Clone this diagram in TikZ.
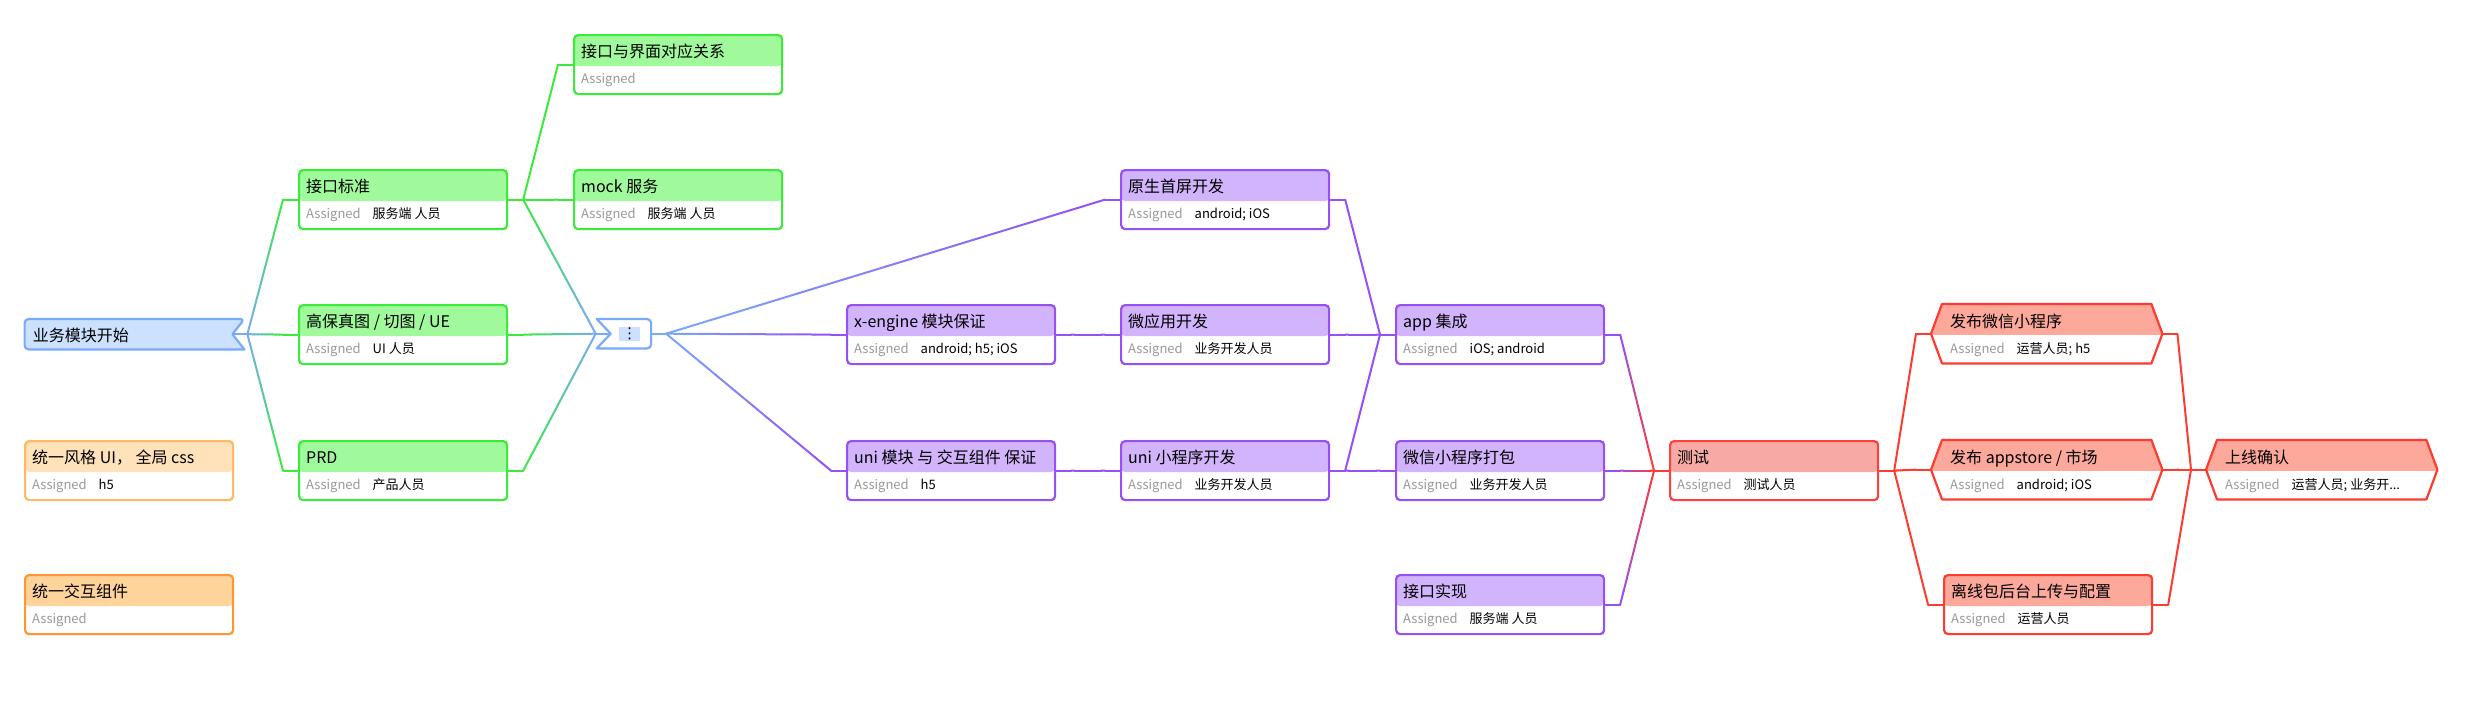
\documentclass[tikz,border=0pt]{standalone}
\usepackage{fontspec}
\setmainfont{Noto Sans CJK SC}
\newfontfamily\symfont{DejaVu Sans}
\usetikzlibrary{calc}
\usetikzlibrary{backgrounds}

\definecolor{bluline}{HTML}{78AAFA}
\definecolor{bluband}{HTML}{CCE0FF}
\definecolor{grnline}{HTML}{3AEB3A}
\definecolor{grnband}{HTML}{A0FA9B}
\definecolor{purline}{HTML}{9650F5}
\definecolor{purband}{HTML}{D2B4FC}
\definecolor{redline}{HTML}{FF403C}
\definecolor{redband}{HTML}{F7AAA5}
\definecolor{salline}{HTML}{FF3B30}
\definecolor{salband}{HTML}{FCA89B}
\definecolor{orgline}{HTML}{FFB964}
\definecolor{orgband}{HTML}{FFE2B9}
\definecolor{ambline}{HTML}{FF9632}
\definecolor{ambband}{HTML}{FFD49B}
\definecolor{assgray}{HTML}{999999}

\newcommand{\taskbox}[5]{%
	\node[box=#3] (#1) at #2 {};
	\node[ttl] (#1-t) at ([xshift=8pt,yshift=-23pt]#1.north west) {#4};
	\node[asg] (#1-a) at ([xshift=8pt,yshift=-49.5pt]#1.north west) {Assigned};
	\node[val] (#1-v) at ([xshift=74.5pt,yshift=-49.5pt]#1.north west) {#5};
}

\newcommand{\hexbox}[4]{%
	\node[hexnode] (#1) at #2 {};
	\draw[hexshape] ([xshift=11pt]#1.north west) -- ([xshift=-11pt]#1.north east) -- (#1.east)
		-- ([xshift=-11pt]#1.south east) -- ([xshift=11pt]#1.south west) -- (#1.west) -- cycle;
	\node[ttl] (#1-t) at ([xshift=19pt,yshift=-23pt]#1.north west) {#3};
	\node[asg] (#1-a) at ([xshift=19pt,yshift=-49.5pt]#1.north west) {Assigned};
	\node[val] (#1-v) at ([xshift=85.5pt,yshift=-49.5pt]#1.north west) {#4};
}

\newcommand{\flow}[4]{%
	\path #1 ++(15,0) coordinate (l-a) #2 ++(-15,0) coordinate (l-b);
	\draw[conn, #3] #1 -- (l-a);
	\draw[conn, #4] (l-b) -- #2;
	\foreach \i in {0,...,9}{
		\pgfmathtruncatemacro\pc{10*\i+5}
		\draw[conn, #4!\pc!#3] ($(l-a)!{\i/10}!(l-b)$) -- ($(l-a)!{(\i+1)/10}!(l-b)$);
	}
}

\begin{document}
\begin{tikzpicture}[x=1pt, y=-1pt,
	band/.style={path picture={\fill[#1] (path picture bounding box.north west) rectangle ([yshift=-31pt]path picture bounding box.north east);}},
	box/.style={rectangle, rounded corners=4pt, draw=#1line, fill=white, line width=2.2pt, minimum width=208pt, minimum height=59pt, inner sep=0pt, anchor=north west, band=#1band},
	hexnode/.style={rectangle, minimum width=231pt, minimum height=59pt, inner sep=0pt, anchor=north west},
	hexshape/.style={draw=salline, fill=white, line width=2.2pt, line join=round, band=salband},
	conn/.style={line width=2pt, line cap=round},
	ttl/.style={anchor=base west, inner sep=0pt, font=\fontsize{16}{19}\selectfont},
	asg/.style={anchor=base west, inner sep=0pt, text=assgray, font=\fontsize{13}{15}\selectfont},
	val/.style={anchor=base west, inner sep=0pt, font=\fontsize{13}{15}\selectfont}]
	
	\useasboundingbox (0,0) rectangle (2490,710);
	
	\node[rectangle, minimum width=219.4pt, minimum height=30pt, inner sep=0pt, anchor=north west] (start) at (24.6,319) {};
	\filldraw[bluline, fill=bluband, line width=2.2pt, line join=round] (start.south east) [rounded corners=4pt] -- (start.south west) -- (start.north west) -- (start.north east) [sharp corners] -- ([xshift=-12pt]start.east) coordinate (start-n) -- cycle;
	\node[ttl] (start-t) at ([xshift=8pt,yshift=-22.5pt]start.north west) {业务模块开始};
	
	\taskbox{ui}{(24,440)}{org}{统一风格 UI， 全局 css}{h5}
	\taskbox{comp}{(24,574)}{amb}{统一交互组件}{}
	
	\taskbox{api}{(298,169)}{grn}{接口标准}{服务端 人员}
	\taskbox{hifi}{(298,304)}{grn}{高保真图 / 切图 / UE}{UI 人员}
	\taskbox{prd}{(298,440)}{grn}{PRD}{产品人员}
	\taskbox{map}{(573,34)}{grn}{接口与界面对应关系}{}
	\taskbox{mock}{(573,169)}{grn}{mock 服务}{服务端 人员}
	
	\node[rectangle, minimum width=54pt, minimum height=29pt, inner sep=0pt, anchor=north west] (mini) at (596.7,319) {};
	\draw[bluline, fill=white, line width=2.2pt, line join=round] (mini.north west) -- ([xshift=14pt]mini.west) coordinate (mini-n) -- (mini.south west) [rounded corners=4pt] -- (mini.south east) -- (mini.north east) [sharp corners] -- cycle;
	\node[fill=bluband, minimum width=21pt, minimum height=14pt, inner sep=0pt, font=\symfont\fontsize{15}{15}\selectfont] (mini-d) at ([xshift=33pt]mini.west) {⋮};
	
	\taskbox{xeng}{(846,304)}{pur}{x-engine 模块保证}{android; h5; iOS}
	\taskbox{unim}{(846,440)}{pur}{uni 模块 与 交互组件 保证}{h5}
	\taskbox{native}{(1120,169)}{pur}{原生首屏开发}{android; iOS}
	\taskbox{micro}{(1120,304)}{pur}{微应用开发}{业务开发人员}
	\taskbox{unimp}{(1120,440)}{pur}{uni 小程序开发}{业务开发人员}
	\taskbox{app}{(1395,304)}{pur}{app 集成}{iOS; android}
	\taskbox{wxpack}{(1395,440)}{pur}{微信小程序打包}{业务开发人员}
	\taskbox{apiimpl}{(1395,574)}{pur}{接口实现}{服务端 人员}
	
	\taskbox{test}{(1669,440)}{red}{测试}{测试人员}
	\hexbox{pubwx}{(1931,304)}{发布微信小程序}{运营人员; h5}
	\hexbox{pubapp}{(1931,440)}{发布 appstore / 市场}{android; iOS}
	\taskbox{offline}{(1943,574)}{sal}{离线包后台上传与配置}{运营人员}
	\hexbox{online}{(2206,440)}{上线确认}{运营人员; 业务开...}
	
	\begin{scope}[on background layer]
		\flow{(start-n)}{(api.west)}{bluline}{grnline}
		\flow{(start-n)}{(hifi.west)}{bluline}{grnline}
		\flow{(start-n)}{(prd.west)}{bluline}{grnline}
		\flow{(api.east)}{(map.west)}{grnline}{grnline}
		\flow{(api.east)}{(mock.west)}{grnline}{grnline}
		\flow{(api.east)}{(mini-n)}{grnline}{bluline}
		\flow{(hifi.east)}{(mini-n)}{grnline}{bluline}
		\flow{(prd.east)}{(mini-n)}{grnline}{bluline}
		\flow{(mini.east)}{(native.west)}{bluline}{purline}
		\flow{(mini.east)}{(xeng.west)}{bluline}{purline}
		\flow{(mini.east)}{(unim.west)}{bluline}{purline}
		\flow{(xeng.east)}{(micro.west)}{purline}{purline}
		\flow{(unim.east)}{(unimp.west)}{purline}{purline}
		\flow{(native.east)}{(app.west)}{purline}{purline}
		\flow{(micro.east)}{(app.west)}{purline}{purline}
		\flow{(unimp.east)}{(app.west)}{purline}{purline}
		\flow{(unimp.east)}{(wxpack.west)}{purline}{purline}
		\flow{(app.east)}{(test.west)}{purline}{salline}
		\flow{(wxpack.east)}{(test.west)}{purline}{salline}
		\flow{(apiimpl.east)}{(test.west)}{purline}{salline}
		\flow{(test.east)}{(pubwx.west)}{salline}{salline}
		\flow{(test.east)}{(pubapp.west)}{salline}{salline}
		\flow{(test.east)}{(offline.west)}{salline}{salline}
		\flow{(pubwx.east)}{(online.west)}{salline}{salline}
		\flow{(pubapp.east)}{(online.west)}{salline}{salline}
		\flow{(offline.east)}{(online.west)}{salline}{salline}
	\end{scope}
	
\end{tikzpicture}
\end{document}
